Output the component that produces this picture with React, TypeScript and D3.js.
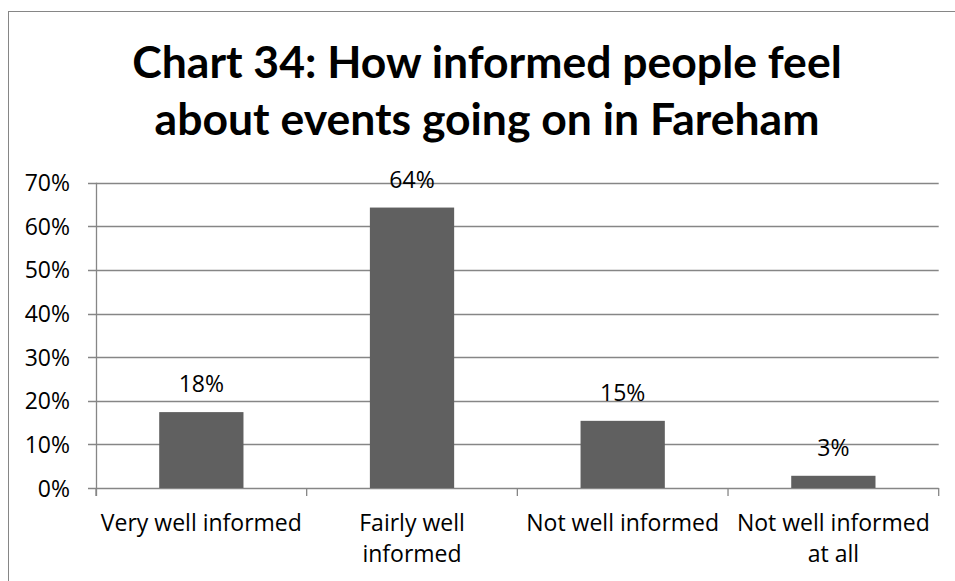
import React from "react";
import * as d3 from "d3";

const categories = ["Very well informed", "Fairly well informed", "Not well informed", "Not well informed at all"];
const categoryLines = [["Very well informed"], ["Fairly well", "informed"], ["Not well informed"], ["Not well informed", "at all"]];
const values = [0.174, 0.643, 0.154, 0.028];
const valueLabels = ["18%", "64%", "15%", "3%"];
const yTicks = [0, 0.1, 0.2, 0.3, 0.4, 0.5, 0.6, 0.7];
const titleLines = ["Chart 34: How informed people feel", "about events going on in Fareham"];

const W = 955;
const H = 581;
const TITLE_FONT = "Lato, 'Open Sans', sans-serif";
const FONT = "'Open Sans', Lato, sans-serif";

export default function App() {
  const left = 96;
  const right = 938.7;
  const top = 182.7;
  const bottom = 488;
  const x = d3.scaleBand<string>().domain(categories).range([left, right]).paddingInner(0.6).paddingOuter(0.3);
  const band = (right - left) / categories.length;
  const y = d3.scaleLinear().domain([0, 0.7]).range([bottom, top]);
  const fmt = d3.format(".0%");
  const grid = "#868686";

  return (
    <svg width={W} height={H} style={{ position: "absolute", left: 0, top: 0, background: "#fff" }} fontFamily={FONT}>
      <rect x={8.5} y={11.5} width={W + 10} height={H + 10} fill="#fff" stroke={grid} strokeWidth={1} />
      {titleLines.map((t, i) => (
        <text key={i} x={487} y={77.5 + i * 57.5} textAnchor="middle" fontSize={44.5} fontWeight="bold" fill="#000" fontFamily={TITLE_FONT}>
          {t}
        </text>
      ))}
      {yTicks.map((t) => (
        <g key={t}>
          <line x1={left - 8} x2={right} y1={Math.round(y(t)) + 0.5} y2={Math.round(y(t)) + 0.5} stroke={grid} strokeWidth={1.3} />
          <text x={70} y={y(t) + 8.5} textAnchor="end" fontSize={23} fill="#000">
            {fmt(t)}
          </text>
        </g>
      ))}
      <line x1={left + 0.5} x2={left + 0.5} y1={top} y2={bottom + 8} stroke={grid} strokeWidth={1.3} />
      {d3.range(categories.length + 1).map((i) => (
        <line key={i} x1={left + i * band} x2={left + i * band} y1={bottom} y2={bottom + 8} stroke={grid} strokeWidth={1.3} />
      ))}
      {categories.map((c, i) => (
        <g key={c}>
          <rect x={x(c)} y={y(values[i])} width={x.bandwidth()} height={bottom - y(values[i])} fill="#606060" />
          <text x={(x(c) as number) + x.bandwidth() / 2} y={y(values[i]) - 20} textAnchor="middle" fontSize={23} fill="#000">
            {valueLabels[i]}
          </text>
          {categoryLines[i].map((l, j) => (
            <text key={j} x={(x(c) as number) + x.bandwidth() / 2} y={531 + j * 31} textAnchor="middle" fontSize={23} fill="#000">
              {l}
            </text>
          ))}
        </g>
      ))}
    </svg>
  );
}
